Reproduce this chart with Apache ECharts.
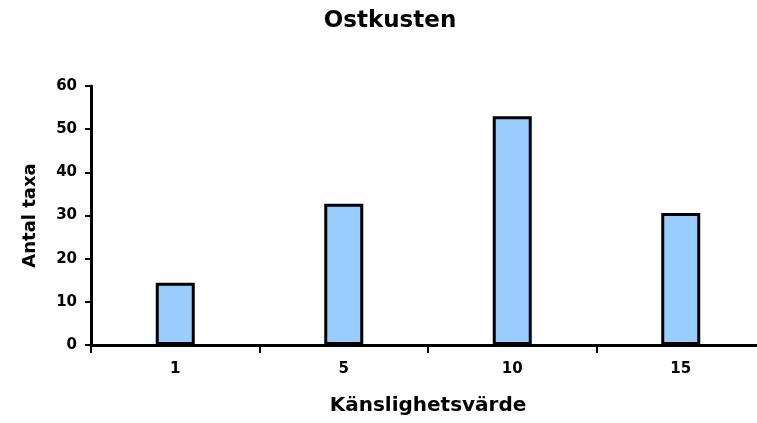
<!DOCTYPE html>
<html>
<head>
<meta charset="utf-8">
<script src="https://cdn.jsdelivr.net/npm/echarts@6/dist/echarts.min.js"></script>
<style>
  html, body { margin: 0; padding: 0; background: #fff; }
  #chart { width: 757px; height: 423px; }
</style>
</head>
<body>
<div id="chart"></div>
<script>
// data
const categories = ['1', '5', '10', '15']
const antalTaxa = [14.4, 32.7, 53, 30.6]
const yTicks = { min: 0, max: 60, interval: 10 }

const fontFamily = '"DejaVu Sans", sans-serif'

const chart = echarts.init(document.getElementById('chart'))
chart.setOption({
  animation: false,
  title: {
    text: 'Ostkusten',
    left: 385,
    top: 5,
    textAlign: 'center',
    textStyle: { fontFamily, fontSize: 23, fontWeight: 'bold', color: '#000' }
  },
  grid: {
    left: 91,
    width: 674,
    top: 86,
    bottom: 78,
    outerBoundsMode: 'none'
  },
  xAxis: {
    type: 'category',
    data: categories,
    name: 'Känslighetsvärde',
    nameLocation: 'middle',
    nameGap: 51,
    nameTextStyle: { fontFamily, fontSize: 20, fontWeight: 'bold', color: '#000' },
    axisLine: { lineStyle: { color: '#000', width: 3 } },
    axisTick: { show: true, length: 8, lineStyle: { color: '#000', width: 2 } },
    axisLabel: { fontFamily, fontSize: 15, fontWeight: 'bold', color: '#000', margin: 17 }
  },
  yAxis: {
    type: 'value',
    min: yTicks.min,
    max: yTicks.max,
    interval: yTicks.interval,
    name: 'Antal taxa',
    nameLocation: 'middle',
    nameGap: 52,
    nameTextStyle: { fontFamily, fontSize: 18, fontWeight: 'bold', color: '#000' },
    axisLine: { show: true, lineStyle: { color: '#000', width: 3 } },
    axisTick: { show: true, length: 6, lineStyle: { color: '#000', width: 2 } },
    axisLabel: { fontFamily, fontSize: 15, fontWeight: 'bold', color: '#000', margin: 14 },
    splitLine: { show: false }
  },
  series: [
    {
      type: 'bar',
      data: antalTaxa,
      barWidth: 39,
      itemStyle: { color: '#99ccff', borderColor: '#000', borderWidth: 3 }
    }
  ]
})
</script>
</body>
</html>
